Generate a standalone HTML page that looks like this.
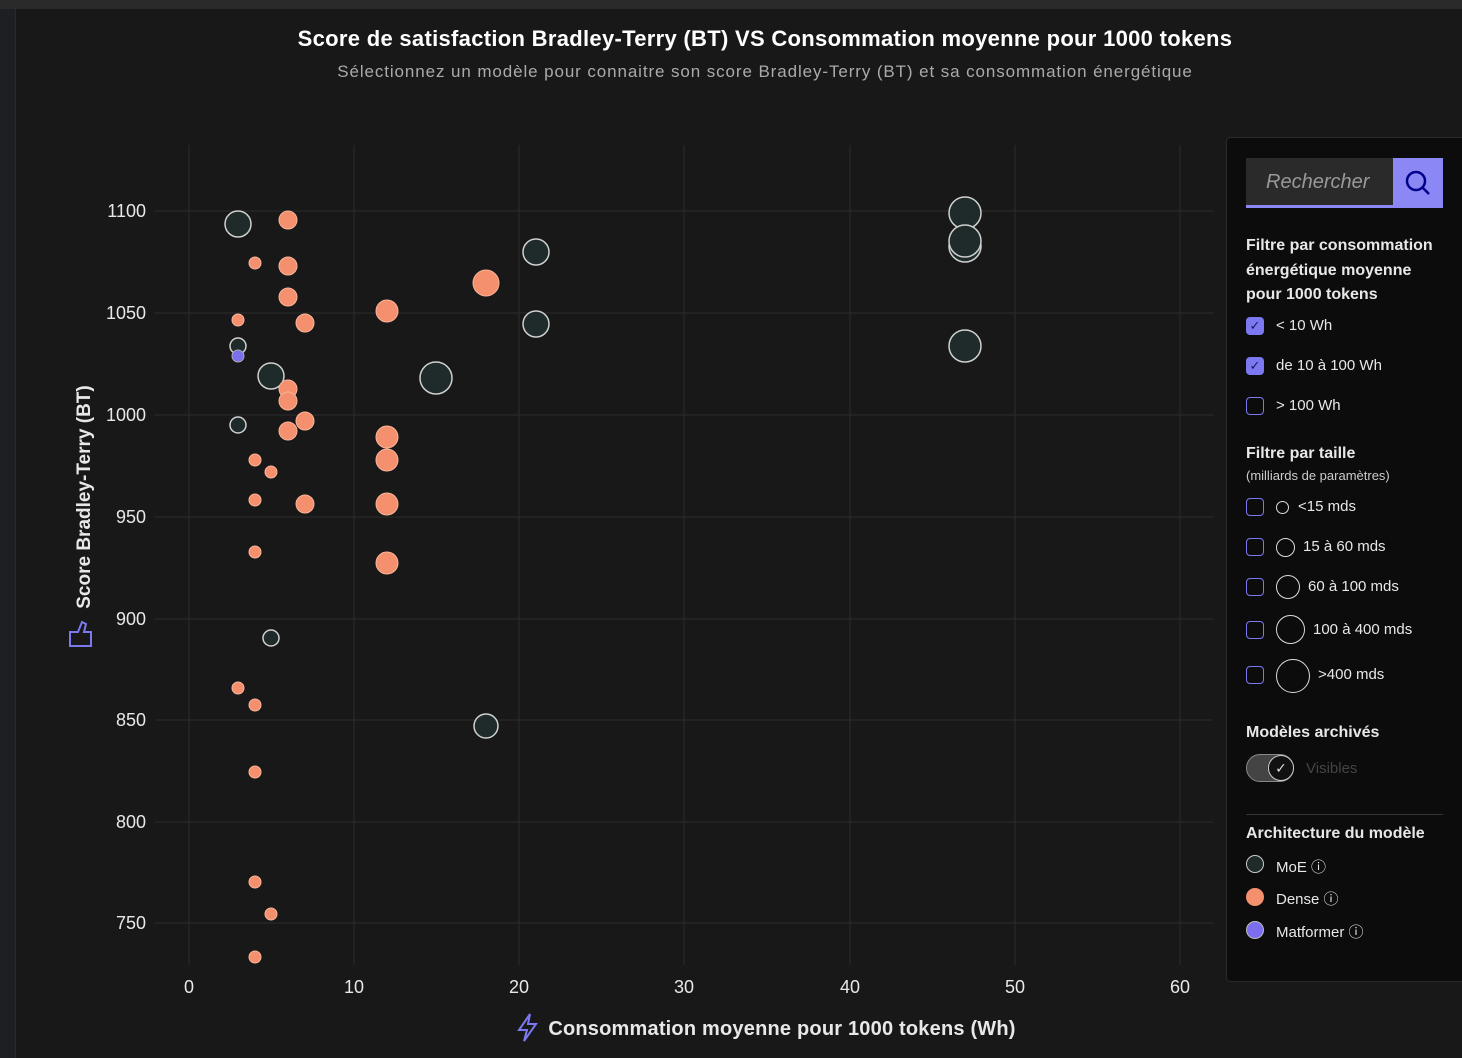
<!DOCTYPE html><html><head><meta charset="utf-8"><style>
body{margin:0;width:1462px;height:1058px;background:#181818;font-family:"Liberation Sans","DejaVu Sans",sans-serif;overflow:hidden;position:relative;color:#ddd}
.t{position:absolute;white-space:nowrap}
.cb{position:absolute;left:1246px;width:18px;height:18px;border:1.5px solid #7b78f0;border-radius:4px;box-sizing:border-box;color:#1a1a60;font-size:13px;text-align:center;line-height:16px}
.ck{background:#7b78f0}
.lb{position:absolute;left:1276px;font-size:15px;color:#e8e8e8}
</style></head><body>
<div style="position:absolute;left:0;top:0;width:1462px;height:9px;background:#2a2a2a"></div>
<div style="position:absolute;left:0;top:9px;width:15px;height:1049px;background:#1e1f22;border-right:1px solid #2a2a2a"></div>
<div class="t" style="left:0;width:1530px;text-align:center;top:26px;font-size:22px;font-weight:bold;color:#fff;letter-spacing:0.3px">Score de satisfaction Bradley-Terry (BT) VS Consommation moyenne pour 1000 tokens</div>
<div class="t" style="left:0;width:1530px;text-align:center;top:62px;font-size:17px;color:#aaa;letter-spacing:0.9px">Sélectionnez un modèle pour connaitre son score Bradley-Terry (BT) et sa consommation énergétique</div>
<svg style="position:absolute;left:0;top:0" width="1462" height="1058">
<g stroke="#2b2b2b" stroke-width="1">
<line x1="189" y1="145" x2="189" y2="965"/><line x1="354" y1="145" x2="354" y2="965"/><line x1="519" y1="145" x2="519" y2="965"/><line x1="684" y1="145" x2="684" y2="965"/><line x1="850" y1="145" x2="850" y2="965"/><line x1="1015" y1="145" x2="1015" y2="965"/><line x1="1180" y1="145" x2="1180" y2="965"/>
<line x1="155" y1="211" x2="1213" y2="211"/><line x1="155" y1="313" x2="1213" y2="313"/><line x1="155" y1="415" x2="1213" y2="415"/><line x1="155" y1="517" x2="1213" y2="517"/><line x1="155" y1="619" x2="1213" y2="619"/><line x1="155" y1="720" x2="1213" y2="720"/><line x1="155" y1="822" x2="1213" y2="822"/><line x1="155" y1="923" x2="1213" y2="923"/>
</g>
<g font-size="18" fill="#e8e8e8" text-anchor="end" font-family="Liberation Sans,sans-serif">
<text x="146" y="217">1100</text><text x="146" y="319">1050</text><text x="146" y="421">1000</text><text x="146" y="523">950</text><text x="146" y="625">900</text><text x="146" y="726">850</text><text x="146" y="828">800</text><text x="146" y="929">750</text>
</g>
<g font-size="18" fill="#e8e8e8" text-anchor="middle">
<text x="189" y="993">0</text><text x="354" y="993">10</text><text x="519" y="993">20</text><text x="684" y="993">30</text><text x="850" y="993">40</text><text x="1015" y="993">50</text><text x="1180" y="993">60</text>
</g>
<text x="782" y="1035" font-size="20" font-weight="bold" fill="#e8e8e8" text-anchor="middle" letter-spacing="0.2">Consommation moyenne pour 1000 tokens (Wh)</text>
<path d="M530 1014 L519 1030 L527 1030 L524 1041 L536 1024 L528 1024 Z" fill="none" stroke="#7b78f0" stroke-width="2"/>
<text transform="translate(90,497) rotate(-90)" font-size="19" font-weight="bold" fill="#e8e8e8" text-anchor="middle">Score Bradley-Terry (BT)</text>
<path d="M70 632 L78 632 L82 622 L86 624 L84 632 L91 632 L91 646 L70 646 Z" fill="none" stroke="#7b78f0" stroke-width="2"/>
<g fill="#1f2a2a" stroke="#d0d0d0" stroke-width="1.5">
<circle cx="238" cy="224" r="13"/><circle cx="238" cy="346" r="8"/><circle cx="271" cy="376" r="13"/><circle cx="238" cy="425" r="8"/><circle cx="271" cy="638" r="8"/><circle cx="436" cy="378" r="16"/><circle cx="536" cy="252" r="13"/><circle cx="536" cy="324" r="13"/><circle cx="486" cy="726" r="12"/><circle cx="965" cy="213" r="16"/><circle cx="965" cy="246" r="16"/><circle cx="965" cy="241" r="16"/><circle cx="965" cy="346" r="16"/>
</g>
<g fill="#f4906e" stroke="#fbb49a" stroke-width="1">
<circle cx="288" cy="220" r="9"/><circle cx="255" cy="263" r="6"/><circle cx="288" cy="266" r="9"/><circle cx="288" cy="297" r="9"/><circle cx="238" cy="320" r="6"/><circle cx="305" cy="323" r="9"/><circle cx="387" cy="311" r="11"/><circle cx="486" cy="283" r="13"/><circle cx="288" cy="389" r="9"/><circle cx="288" cy="401" r="9"/><circle cx="305" cy="421" r="9"/><circle cx="288" cy="431" r="9"/><circle cx="387" cy="437" r="11"/><circle cx="387" cy="460" r="11"/><circle cx="255" cy="460" r="6"/><circle cx="271" cy="472" r="6"/><circle cx="255" cy="500" r="6"/><circle cx="305" cy="504" r="9"/><circle cx="387" cy="504" r="11"/><circle cx="255" cy="552" r="6"/><circle cx="387" cy="563" r="11"/><circle cx="238" cy="688" r="6"/><circle cx="255" cy="705" r="6"/><circle cx="255" cy="772" r="6"/><circle cx="255" cy="882" r="6"/><circle cx="271" cy="914" r="6"/><circle cx="255" cy="957" r="6"/>
</g>
<circle cx="238" cy="356" r="6" fill="#7b6ff0" stroke="#aaa"/>
</svg>
<div style="position:absolute;left:1226px;top:137px;width:240px;height:843px;background:#0c0c0c;border:1px solid #2a2a2a;border-radius:4px"></div>
<div style="position:absolute;left:1246px;top:158px;width:147px;height:47px;background:#2a2a2a;border-bottom:3px solid #8b87f5"></div>
<div class="t" style="left:1266px;top:171px;font-size:20px;font-style:italic;color:#999">Rechercher</div>
<div style="position:absolute;left:1393px;top:158px;width:50px;height:50px;background:#8b87f5"></div>
<svg style="position:absolute;left:1403px;top:168px" width="30" height="30"><circle cx="13" cy="13" r="9" fill="none" stroke="#00008b" stroke-width="2.5"/><line x1="20" y1="20" x2="26" y2="26" stroke="#00008b" stroke-width="2.5"/></svg>
<div class="t" style="left:1246px;top:234px;font-size:16px;font-weight:bold;line-height:24.5px;color:#e8e8e8">Filtre par consommation<br>énergétique moyenne<br>pour 1000 tokens</div>
<div class="cb ck" style="top:317px">✓</div><div class="lb" style="top:317px">&lt; 10 Wh</div>
<div class="cb ck" style="top:357px">✓</div><div class="lb" style="top:357px">de 10 à 100 Wh</div>
<div class="cb" style="top:397px"></div><div class="lb" style="top:397px">&gt; 100 Wh</div>
<div class="t" style="left:1246px;top:445px;font-size:16px;font-weight:bold;color:#e8e8e8">Filtre par taille</div>
<div class="t" style="left:1246px;top:468px;font-size:13px;color:#ccc">(milliards de paramètres)</div>
<div class="cb" style="top:498px"></div><div style="position:absolute;left:1276px;top:501px;width:11px;height:11px;border:1px solid #ddd;border-radius:50%"></div><div class="lb" style="left:1298px;top:498px">&lt;15 mds</div>
<div class="cb" style="top:538px"></div><div style="position:absolute;left:1276px;top:538px;width:17px;height:17px;border:1px solid #ddd;border-radius:50%"></div><div class="lb" style="left:1303px;top:538px">15 à 60 mds</div>
<div class="cb" style="top:578px"></div><div style="position:absolute;left:1276px;top:575px;width:22px;height:22px;border:1px solid #ddd;border-radius:50%"></div><div class="lb" style="left:1308px;top:578px">60 à 100 mds</div>
<div class="cb" style="top:621px"></div><div style="position:absolute;left:1276px;top:615px;width:27px;height:27px;border:1px solid #ddd;border-radius:50%"></div><div class="lb" style="left:1313px;top:621px">100 à 400 mds</div>
<div class="cb" style="top:666px"></div><div style="position:absolute;left:1276px;top:659px;width:32px;height:32px;border:1px solid #ddd;border-radius:50%"></div><div class="lb" style="left:1318px;top:666px">&gt;400 mds</div>
<div class="t" style="left:1246px;top:724px;font-size:16px;font-weight:bold;color:#e8e8e8">Modèles archivés</div>
<div style="position:absolute;left:1246px;top:754px;width:48px;height:28px;border-radius:14px;background:#444;border:1px solid #888;box-sizing:border-box"></div>
<div style="position:absolute;left:1268px;top:755px;width:26px;height:26px;border-radius:50%;background:#111;border:1px solid #ccc;box-sizing:border-box;color:#ddd;font-size:14px;text-align:center;line-height:24px">✓</div>
<div class="t" style="left:1306px;top:760px;font-size:15px;color:#444">Visibles</div>
<div style="position:absolute;left:1246px;top:814px;width:197px;height:1px;background:#333"></div>
<div class="t" style="left:1246px;top:825px;font-size:16px;font-weight:bold;color:#e8e8e8">Architecture du modèle</div>
<div style="position:absolute;left:1246px;top:855px;width:18px;height:18px;border-radius:50%;background:#1f2a2a;border:1px solid #ccc;box-sizing:border-box"></div><div class="lb" style="top:856px">MoE ⓘ</div>
<div style="position:absolute;left:1246px;top:888px;width:18px;height:18px;border-radius:50%;background:#f4906e"></div><div class="lb" style="top:888px">Dense ⓘ</div>
<div style="position:absolute;left:1246px;top:921px;width:18px;height:18px;border-radius:50%;background:#7b6ff0;border:1px solid #bbb;box-sizing:border-box"></div><div class="lb" style="top:921px">Matformer ⓘ</div>
</body></html>
